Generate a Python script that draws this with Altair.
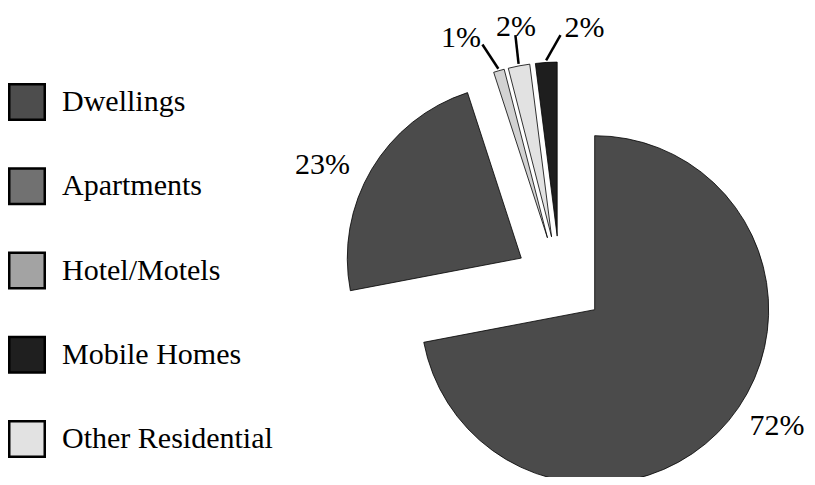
import altair as alt
import pandas as pd

# ---- data ----
categories = ["Dwellings", "Apartments", "Hotel/Motels", "Other Residential", "Mobile Homes"]
shares = [72, 23, 1, 2, 2]
labels = ["72%", "23%", "1%", "2%", "2%"]
pie_colors = ["#4b4b4b", "#4b4b4b", "#d2d2d2", "#e2e2e2", "#1e1e1e"]

legend_items = ["Dwellings", "Apartments", "Hotel/Motels", "Mobile Homes", "Other Residential"]
legend_colors = ["#4d4d4d", "#717171", "#a3a3a3", "#1f1f1f", "#e2e2e2"]

# ---- layout parameters (pixels) ----
CX, CY = 552, 273   # pie centre
R = 174             # radius
D = 45              # explode distance
SPREAD = 4.0        # spreading of small-slice leader lines
TURN = 0.12         # extra clockwise turn of leader lines (radians)
L = 29              # leader length
FONT = "Liberation Serif, Times New Roman, DejaVu Serif, serif"

df = pd.DataFrame({"cat": categories, "share": shares, "label": labels,
                   "order": list(range(len(categories)))})
ldf = pd.DataFrame({"item": legend_items})

base = (
    alt.Chart(df)
    .transform_window(cum="sum(share)", sort=[alt.SortField("order")], frame=[None, 0])
    .transform_calculate(t0="2*PI*(datum.cum - datum.share)/100",
                         t1="2*PI*datum.cum/100")
    .transform_calculate(mid="(datum.t0 + datum.t1)/2")
    .transform_calculate(px=f"{CX} + {D}*sin(datum.mid)",
                         py=f"{CY} - {D}*cos(datum.mid)",
                         small="datum.share < 5 ? 1 : 0")
    .transform_joinaggregate(cmid="mean(mid)", groupby=["small"])
    .transform_calculate(la=f"datum.small == 1 ? datum.mid + (datum.mid - datum.cmid)*{SPREAD} + {TURN} : datum.mid")
    .transform_calculate(tipx=f"datum.px + ({R}+2)*sin(datum.mid)",
                         tipy=f"datum.py - ({R}+2)*cos(datum.mid)")
    .transform_calculate(endx=f"datum.tipx + {L}*sin(datum.la)",
                         endy=f"datum.tipy - {L}*cos(datum.la)")
    .transform_calculate(
        lx=f"datum.small == 1 ? datum.endx + clamp(50*sin(datum.la) + 6, -24, 24) : datum.px + ({R}+8)*sin(datum.mid) + (sin(datum.mid) > 0 ? 42 : -42)",
        ly=f"datum.small == 1 ? datum.endy - 8*cos(datum.la) : datum.py - ({R}+8)*cos(datum.mid)",
    )
)

arcs = base.mark_arc(radius=R, stroke="black", strokeWidth=0.8).encode(
    theta=alt.Theta("t0:Q", scale=None),
    theta2=alt.Theta2("t1:Q"),
    x=alt.X("px:Q", scale=None),
    y=alt.Y("py:Q", scale=None),
    color=alt.Color("cat:N", scale=alt.Scale(domain=categories, range=pie_colors), legend=None),
)

leaders = base.transform_filter("datum.small == 1").mark_rule(
    strokeWidth=2.5, color="black"
).encode(
    x=alt.X("tipx:Q", scale=None),
    y=alt.Y("tipy:Q", scale=None),
    x2=alt.X2("endx:Q"),
    y2=alt.Y2("endy:Q"),
)

pct_text = base.mark_text(font=FONT, fontSize=30, align="center", baseline="middle",
                          color="black").encode(
    x=alt.X("lx:Q", scale=None),
    y=alt.Y("ly:Q", scale=None),
    text=alt.Text("label:N"),
)

ly_enc = alt.Y("item:N", sort=legend_items,
               scale=alt.Scale(domain=legend_items, range=[94, 431], padding=0),
               axis=None)

squares = alt.Chart(ldf).mark_square(size=1260, stroke="black", strokeWidth=2.5,
                                      opacity=1, filled=True).encode(
    x=alt.value(19),
    y=ly_enc,
    color=alt.Color("item:N", scale=alt.Scale(domain=legend_items, range=legend_colors), legend=None),
)

legend_text = alt.Chart(ldf).mark_text(font=FONT, fontSize=30, align="left",
                                        baseline="middle", color="black").encode(
    x=alt.value(54),
    y=ly_enc,
    text=alt.Text("item:N"),
)

chart = (
    alt.layer(arcs, leaders, pct_text, squares, legend_text)
    .resolve_scale(x="independent", y="independent", color="independent")
    .properties(width=799, height=469, padding=0, autosize="none", background="white")
    .configure_view(strokeWidth=0)
    .configure_text(font=FONT)
)

chart.save("out.html", embed_options={"renderer": "svg", "actions": False})
